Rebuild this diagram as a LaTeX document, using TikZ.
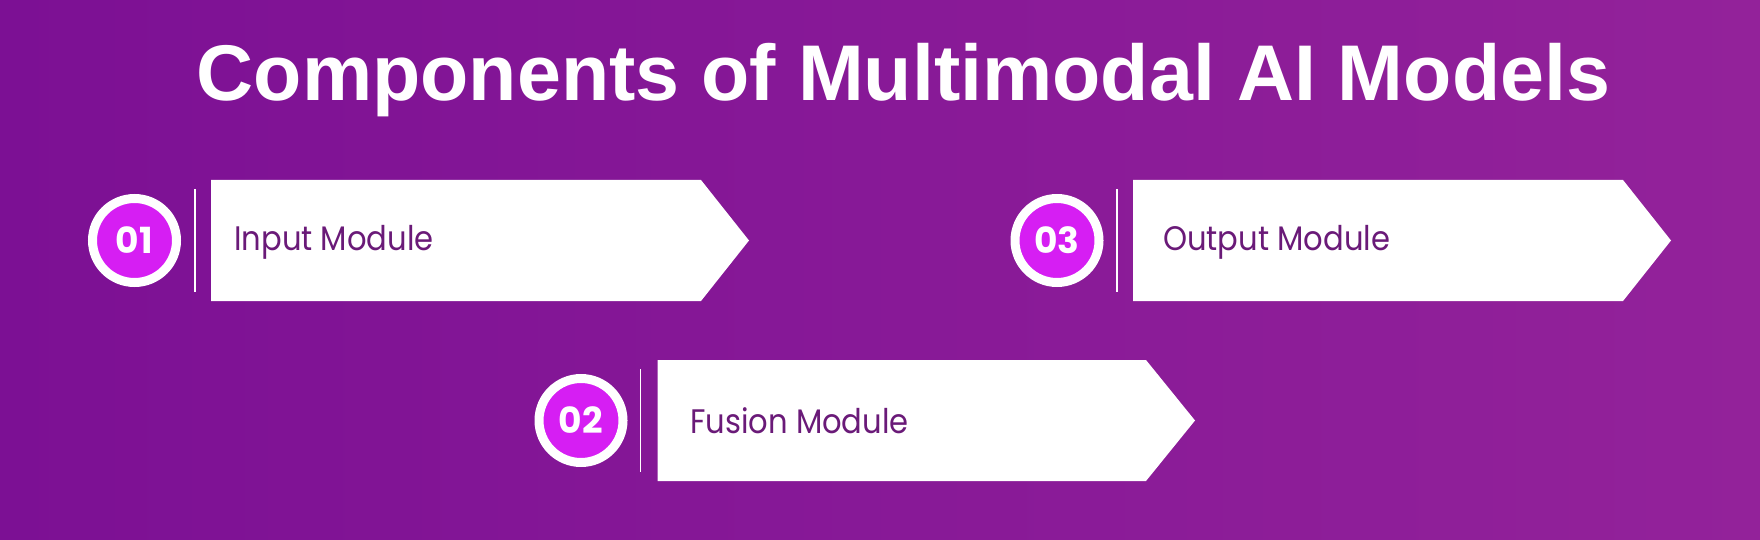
\documentclass[tikz,border=0pt]{standalone}
\usepackage{fontspec}
\setmainfont{Poppins}
\newfontfamily\titlefont{Liberation Sans}
\newfontfamily\bodyfont[FakeStretch=0.9]{Poppins}
\usetikzlibrary{shadings}
\definecolor{bgL}{HTML}{7C1094}
\definecolor{bgR}{HTML}{93229A}
\definecolor{mag}{HTML}{D61EF3}
\definecolor{txt}{HTML}{6A1A78}
\tikzset{
  arrowbox/.style={fill=white, draw=none},
  numring/.style={circle, fill=mag, draw=white, line width=9pt, minimum size=84pt, inner sep=0pt,
     text=white, font=\fontsize{36}{36}\selectfont\bfseries},
  sepline/.style={draw=white, line width=1.6pt},
  label/.style={anchor=base west, inner sep=0pt, text=txt, font=\bodyfont\fontsize{34}{34}\selectfont},
  titlest/.style={anchor=base, inner sep=0pt, text=white, font=\titlefont\fontsize{79}{79}\selectfont\bfseries}
}
\begin{document}
\begin{tikzpicture}[x=1pt,y=-1pt]
\useasboundingbox (0,0) rectangle (1760,540);
\shade[left color=bgL, right color=bgR] (0,0) rectangle (1760,540);
\node[titlest] (title) at (903.5,101) {Components of Multimodal AI Models};
% box 1
\fill[arrowbox] (211,180) -- (701,180) -- (749,240.5) -- (701,301) -- (211,301) -- cycle;
\node[numring] (n1) at (134.5,240.5) {01};
\draw[sepline] (195,189) -- (195,292);
\node[label] (t1) at (234,250) {Input Module};
% box 3
\fill[arrowbox] (1133,180) -- (1623,180) -- (1671,240.5) -- (1623,301) -- (1133,301) -- cycle;
\node[numring] (n3) at (1057,240.5) {03};
\draw[sepline] (1117,189) -- (1117,292);
\node[label] (t3) at (1163,250) {Output Module};
% box 2
\fill[arrowbox] (657.5,360) -- (1146,360) -- (1195,420.5) -- (1146,481) -- (657.5,481) -- cycle;
\node[numring] (n2) at (581,420.5) {02};
\draw[sepline] (640.5,369) -- (640.5,472);
\node[label] (t2) at (690,433) {Fusion Module};
\end{tikzpicture}
\end{document}
